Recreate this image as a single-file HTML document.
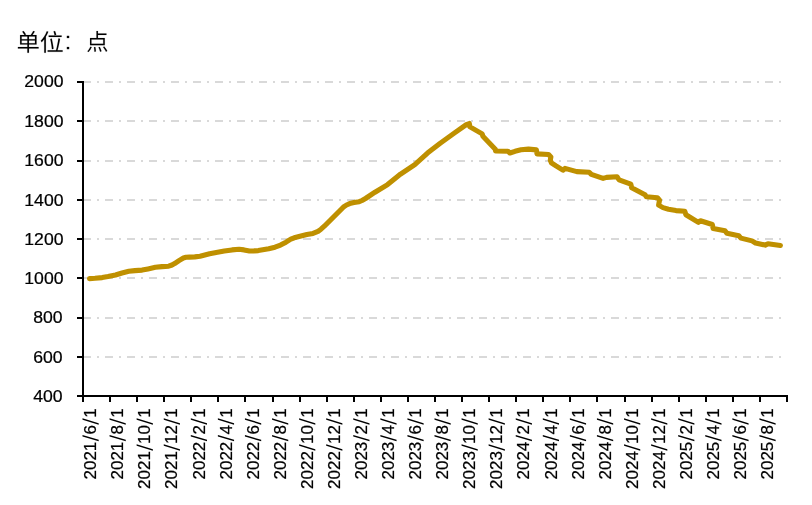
<!DOCTYPE html>
<html><head><meta charset="utf-8"><title>chart</title>
<style>
html,body{margin:0;padding:0;background:#fff;}
body{width:812px;height:505px;overflow:hidden;}
svg{display:block;will-change:transform;}
text{font-family:"Liberation Sans",sans-serif;font-size:17px;fill:#000;stroke:#000;stroke-width:0.22px;}
</style></head><body>
<svg width="812" height="505" viewBox="0 0 812 505">
<rect width="812" height="505" fill="#fff"/>
<g stroke="#d9d9d9" stroke-width="2" stroke-dasharray="8 6 2 6" fill="none" shape-rendering="crispEdges">
<path d="M83 357 H787"/>
<path d="M83 318 H787"/>
<path d="M83 278 H787"/>
<path d="M83 239 H787"/>
<path d="M83 200 H787"/>
<path d="M83 161 H787"/>
<path d="M83 121 H787"/>
<path d="M83 82 H787"/>
</g>
<g stroke="#000" stroke-width="2" fill="none" shape-rendering="crispEdges">
<path d="M83 81 V402"/>
<path d="M77 396 H788"/>
<path d="M77 357 H83"/>
<path d="M77 318 H83"/>
<path d="M77 278 H83"/>
<path d="M77 239 H83"/>
<path d="M77 200 H83"/>
<path d="M77 161 H83"/>
<path d="M77 121 H83"/>
<path d="M77 82 H83"/>
<path d="M110 396 V402"/>
<path d="M137 396 V402"/>
<path d="M164 396 V402"/>
<path d="M191 396 V402"/>
<path d="M218 396 V402"/>
<path d="M245 396 V402"/>
<path d="M273 396 V402"/>
<path d="M300 396 V402"/>
<path d="M327 396 V402"/>
<path d="M354 396 V402"/>
<path d="M381 396 V402"/>
<path d="M408 396 V402"/>
<path d="M435 396 V402"/>
<path d="M462 396 V402"/>
<path d="M489 396 V402"/>
<path d="M516 396 V402"/>
<path d="M543 396 V402"/>
<path d="M570 396 V402"/>
<path d="M597 396 V402"/>
<path d="M625 396 V402"/>
<path d="M652 396 V402"/>
<path d="M679 396 V402"/>
<path d="M706 396 V402"/>
<path d="M733 396 V402"/>
<path d="M760 396 V402"/>
<path d="M787 396 V402"/>
</g>
<g text-anchor="end">
<text x="62.65" y="401.90" textLength="29.40" lengthAdjust="spacingAndGlyphs">400</text>
<text x="62.65" y="362.65" textLength="29.40" lengthAdjust="spacingAndGlyphs">600</text>
<text x="62.65" y="323.40" textLength="29.40" lengthAdjust="spacingAndGlyphs">800</text>
<text x="63.50" y="284.15" textLength="39.20" lengthAdjust="spacingAndGlyphs">1000</text>
<text x="63.50" y="244.90" textLength="39.20" lengthAdjust="spacingAndGlyphs">1200</text>
<text x="63.50" y="205.65" textLength="39.20" lengthAdjust="spacingAndGlyphs">1400</text>
<text x="63.50" y="166.40" textLength="39.20" lengthAdjust="spacingAndGlyphs">1600</text>
<text x="63.50" y="127.15" textLength="39.20" lengthAdjust="spacingAndGlyphs">1800</text>
<text x="63.50" y="86.90" textLength="39.20" lengthAdjust="spacingAndGlyphs">2000</text>
</g>
<g text-anchor="end">
<g transform="translate(96.20 408.40) rotate(-90)"><text x="0.00" y="0">1</text><path d="M-16.25 2.5 h1.5 L-9.85 -13.7 h-1.5 Z"/><text x="-16.65" y="0">6</text><path d="M-32.90 2.5 h1.5 L-26.50 -13.7 h-1.5 Z"/><text x="-33.30" y="0">2021</text></g>
<g transform="translate(123.28 408.40) rotate(-90)"><text x="0.00" y="0">1</text><path d="M-16.25 2.5 h1.5 L-9.85 -13.7 h-1.5 Z"/><text x="-16.65" y="0">8</text><path d="M-32.90 2.5 h1.5 L-26.50 -13.7 h-1.5 Z"/><text x="-33.30" y="0">2021</text></g>
<g transform="translate(150.35 408.40) rotate(-90)"><text x="0.00" y="0">1</text><path d="M-16.25 2.5 h1.5 L-9.85 -13.7 h-1.5 Z"/><text x="-16.65" y="0">10</text><path d="M-42.35 2.5 h1.5 L-35.95 -13.7 h-1.5 Z"/><text x="-42.75" y="0">2021</text></g>
<g transform="translate(177.43 408.40) rotate(-90)"><text x="0.00" y="0">1</text><path d="M-16.25 2.5 h1.5 L-9.85 -13.7 h-1.5 Z"/><text x="-16.65" y="0">12</text><path d="M-42.35 2.5 h1.5 L-35.95 -13.7 h-1.5 Z"/><text x="-42.75" y="0">2021</text></g>
<g transform="translate(204.51 408.40) rotate(-90)"><text x="0.00" y="0">1</text><path d="M-16.25 2.5 h1.5 L-9.85 -13.7 h-1.5 Z"/><text x="-16.65" y="0">2</text><path d="M-32.90 2.5 h1.5 L-26.50 -13.7 h-1.5 Z"/><text x="-33.30" y="0">2022</text></g>
<g transform="translate(231.58 408.40) rotate(-90)"><text x="0.00" y="0">1</text><path d="M-16.25 2.5 h1.5 L-9.85 -13.7 h-1.5 Z"/><text x="-16.65" y="0">4</text><path d="M-32.90 2.5 h1.5 L-26.50 -13.7 h-1.5 Z"/><text x="-33.30" y="0">2022</text></g>
<g transform="translate(258.66 408.40) rotate(-90)"><text x="0.00" y="0">1</text><path d="M-16.25 2.5 h1.5 L-9.85 -13.7 h-1.5 Z"/><text x="-16.65" y="0">6</text><path d="M-32.90 2.5 h1.5 L-26.50 -13.7 h-1.5 Z"/><text x="-33.30" y="0">2022</text></g>
<g transform="translate(285.74 408.40) rotate(-90)"><text x="0.00" y="0">1</text><path d="M-16.25 2.5 h1.5 L-9.85 -13.7 h-1.5 Z"/><text x="-16.65" y="0">8</text><path d="M-32.90 2.5 h1.5 L-26.50 -13.7 h-1.5 Z"/><text x="-33.30" y="0">2022</text></g>
<g transform="translate(312.82 408.40) rotate(-90)"><text x="0.00" y="0">1</text><path d="M-16.25 2.5 h1.5 L-9.85 -13.7 h-1.5 Z"/><text x="-16.65" y="0">10</text><path d="M-42.35 2.5 h1.5 L-35.95 -13.7 h-1.5 Z"/><text x="-42.75" y="0">2022</text></g>
<g transform="translate(339.89 408.40) rotate(-90)"><text x="0.00" y="0">1</text><path d="M-16.25 2.5 h1.5 L-9.85 -13.7 h-1.5 Z"/><text x="-16.65" y="0">12</text><path d="M-42.35 2.5 h1.5 L-35.95 -13.7 h-1.5 Z"/><text x="-42.75" y="0">2022</text></g>
<g transform="translate(366.97 408.40) rotate(-90)"><text x="0.00" y="0">1</text><path d="M-16.25 2.5 h1.5 L-9.85 -13.7 h-1.5 Z"/><text x="-16.65" y="0">2</text><path d="M-32.90 2.5 h1.5 L-26.50 -13.7 h-1.5 Z"/><text x="-33.30" y="0">2023</text></g>
<g transform="translate(394.05 408.40) rotate(-90)"><text x="0.00" y="0">1</text><path d="M-16.25 2.5 h1.5 L-9.85 -13.7 h-1.5 Z"/><text x="-16.65" y="0">4</text><path d="M-32.90 2.5 h1.5 L-26.50 -13.7 h-1.5 Z"/><text x="-33.30" y="0">2023</text></g>
<g transform="translate(421.12 408.40) rotate(-90)"><text x="0.00" y="0">1</text><path d="M-16.25 2.5 h1.5 L-9.85 -13.7 h-1.5 Z"/><text x="-16.65" y="0">6</text><path d="M-32.90 2.5 h1.5 L-26.50 -13.7 h-1.5 Z"/><text x="-33.30" y="0">2023</text></g>
<g transform="translate(448.20 408.40) rotate(-90)"><text x="0.00" y="0">1</text><path d="M-16.25 2.5 h1.5 L-9.85 -13.7 h-1.5 Z"/><text x="-16.65" y="0">8</text><path d="M-32.90 2.5 h1.5 L-26.50 -13.7 h-1.5 Z"/><text x="-33.30" y="0">2023</text></g>
<g transform="translate(475.28 408.40) rotate(-90)"><text x="0.00" y="0">1</text><path d="M-16.25 2.5 h1.5 L-9.85 -13.7 h-1.5 Z"/><text x="-16.65" y="0">10</text><path d="M-42.35 2.5 h1.5 L-35.95 -13.7 h-1.5 Z"/><text x="-42.75" y="0">2023</text></g>
<g transform="translate(502.35 408.40) rotate(-90)"><text x="0.00" y="0">1</text><path d="M-16.25 2.5 h1.5 L-9.85 -13.7 h-1.5 Z"/><text x="-16.65" y="0">12</text><path d="M-42.35 2.5 h1.5 L-35.95 -13.7 h-1.5 Z"/><text x="-42.75" y="0">2023</text></g>
<g transform="translate(529.43 408.40) rotate(-90)"><text x="0.00" y="0">1</text><path d="M-16.25 2.5 h1.5 L-9.85 -13.7 h-1.5 Z"/><text x="-16.65" y="0">2</text><path d="M-32.90 2.5 h1.5 L-26.50 -13.7 h-1.5 Z"/><text x="-33.30" y="0">2024</text></g>
<g transform="translate(556.51 408.40) rotate(-90)"><text x="0.00" y="0">1</text><path d="M-16.25 2.5 h1.5 L-9.85 -13.7 h-1.5 Z"/><text x="-16.65" y="0">4</text><path d="M-32.90 2.5 h1.5 L-26.50 -13.7 h-1.5 Z"/><text x="-33.30" y="0">2024</text></g>
<g transform="translate(583.58 408.40) rotate(-90)"><text x="0.00" y="0">1</text><path d="M-16.25 2.5 h1.5 L-9.85 -13.7 h-1.5 Z"/><text x="-16.65" y="0">6</text><path d="M-32.90 2.5 h1.5 L-26.50 -13.7 h-1.5 Z"/><text x="-33.30" y="0">2024</text></g>
<g transform="translate(610.66 408.40) rotate(-90)"><text x="0.00" y="0">1</text><path d="M-16.25 2.5 h1.5 L-9.85 -13.7 h-1.5 Z"/><text x="-16.65" y="0">8</text><path d="M-32.90 2.5 h1.5 L-26.50 -13.7 h-1.5 Z"/><text x="-33.30" y="0">2024</text></g>
<g transform="translate(637.74 408.40) rotate(-90)"><text x="0.00" y="0">1</text><path d="M-16.25 2.5 h1.5 L-9.85 -13.7 h-1.5 Z"/><text x="-16.65" y="0">10</text><path d="M-42.35 2.5 h1.5 L-35.95 -13.7 h-1.5 Z"/><text x="-42.75" y="0">2024</text></g>
<g transform="translate(664.82 408.40) rotate(-90)"><text x="0.00" y="0">1</text><path d="M-16.25 2.5 h1.5 L-9.85 -13.7 h-1.5 Z"/><text x="-16.65" y="0">12</text><path d="M-42.35 2.5 h1.5 L-35.95 -13.7 h-1.5 Z"/><text x="-42.75" y="0">2024</text></g>
<g transform="translate(691.89 408.40) rotate(-90)"><text x="0.00" y="0">1</text><path d="M-16.25 2.5 h1.5 L-9.85 -13.7 h-1.5 Z"/><text x="-16.65" y="0">2</text><path d="M-32.90 2.5 h1.5 L-26.50 -13.7 h-1.5 Z"/><text x="-33.30" y="0">2025</text></g>
<g transform="translate(718.97 408.40) rotate(-90)"><text x="0.00" y="0">1</text><path d="M-16.25 2.5 h1.5 L-9.85 -13.7 h-1.5 Z"/><text x="-16.65" y="0">4</text><path d="M-32.90 2.5 h1.5 L-26.50 -13.7 h-1.5 Z"/><text x="-33.30" y="0">2025</text></g>
<g transform="translate(746.05 408.40) rotate(-90)"><text x="0.00" y="0">1</text><path d="M-16.25 2.5 h1.5 L-9.85 -13.7 h-1.5 Z"/><text x="-16.65" y="0">6</text><path d="M-32.90 2.5 h1.5 L-26.50 -13.7 h-1.5 Z"/><text x="-33.30" y="0">2025</text></g>
<g transform="translate(773.12 408.40) rotate(-90)"><text x="0.00" y="0">1</text><path d="M-16.25 2.5 h1.5 L-9.85 -13.7 h-1.5 Z"/><text x="-16.65" y="0">8</text><path d="M-32.90 2.5 h1.5 L-26.50 -13.7 h-1.5 Z"/><text x="-33.30" y="0">2025</text></g>
</g>
<g fill="#000" stroke="#000" stroke-width="5">
<path transform="translate(16.625 50.957) scale(0.02318 -0.02393)" d="M216 440H463V325H216ZM532 440H791V325H532ZM216 607H463V494H216ZM532 607H791V494H532ZM714 834C690 784 648 714 612 665H365L404 685C384 727 337 789 296 834L239 807C277 765 317 705 340 665H150V267H463V167H55V104H463V-77H532V104H948V167H532V267H859V665H686C719 708 755 762 786 810Z"/>
<path transform="translate(39.871 50.999) scale(0.02383 -0.02370)" d="M370 654V589H912V654ZM437 509C469 369 498 183 507 78L574 97C563 199 532 381 498 523ZM573 827C592 777 612 710 621 668L687 687C677 730 655 794 636 844ZM326 28V-36H954V28H741C779 164 821 365 848 519L777 532C758 380 716 164 678 28ZM291 835C234 681 139 529 39 432C51 417 71 382 78 366C114 404 150 447 184 495V-76H251V600C291 669 326 742 354 815Z"/>
<path transform="translate(86.327 50.122) scale(0.02212 -0.02279)" d="M231 469H765V280H231ZM343 128C357 64 365 -19 365 -69L433 -60C432 -12 422 70 407 133ZM550 127C580 65 610 -17 621 -67L686 -50C675 -1 642 80 611 140ZM755 135C806 73 862 -15 885 -70L948 -43C923 12 865 96 814 159ZM181 153C150 79 98 -2 44 -48L105 -78C160 -25 211 59 245 136ZM168 532V218H833V532H525V665H909V729H525V839H458V532Z"/>
<rect x="66.8" y="35.8" width="2.4" height="2.3" stroke="none"/><rect x="66.8" y="46.9" width="2.4" height="2.3" stroke="none"/>
</g>
<path d="M89.5 278.6 L95 278.3 L102.2 277.6 L108 276.6 L115.5 275.0 L122 273.0 L128.8 271.3 L135 270.6 L142.1 270.1 L148 268.9 L155.4 267.3 L162 266.6 L168.7 266.2 L172 265.0 L174.6 263.6 L179 260.6 L183.4 258.0 L186 257.3 L189.4 257.1 L194.8 256.9 L200 256.2 L209.6 253.7 L224.3 251.0 L232 249.9 L239.1 249.3 L244 249.9 L249.5 251.0 L254 250.9 L258.3 250.6 L268.7 248.8 L275 247.2 L280.5 245.1 L286 242.2 L290.8 239.2 L294.2 237.8 L300 236.3 L306.9 234.6 L313 233.4 L318 231.4 L321 229.2 L324.3 226.2 L333.8 216.7 L343.3 207.2 L346.5 205.0 L349.7 203.6 L354 202.6 L359.2 201.7 L362 200.5 L365.5 198.5 L375 192.2 L387.6 184.6 L400.6 174.1 L414.8 164.6 L427.5 153.1 L440.2 143.2 L454.4 133.0 L466.3 124.7 L469.3 123.5 L470.0 126.9 L482.2 133.9 L482.9 136.3 L495.3 149.3 L495.6 151.0 L507.9 151.2 L509.9 153.0 L515 151.3 L521 149.8 L528.5 149.1 L536.4 149.9 L537.0 153.9 L548.6 154.5 L550.9 156.9 L550.3 160.2 L551.4 162.8 L556 165.9 L562.9 170.2 L565 168.4 L576.8 171.6 L589.2 172.3 L591.3 174.4 L603.1 178.4 L606.6 177.4 L617 176.8 L619.1 179.9 L630.8 184.2 L631.7 187.8 L645 194.7 L646.4 196.8 L657.4 197.7 L659.5 200.2 L658.6 205.1 L663 207.6 L668.5 209.2 L676 210.6 L684.8 211.3 L685.9 214.8 L698.4 222.4 L700.4 220.7 L712.3 224.5 L713.2 228.6 L725 230.8 L727 233.3 L738.8 235.8 L740.9 238.1 L752 240.9 L755.5 243.0 L765.2 245.1 L768 243.7 L780.4 245.5" fill="none" stroke="#bf9000" stroke-width="5.1" stroke-linecap="round" stroke-linejoin="round"/>
</svg>
</body></html>
